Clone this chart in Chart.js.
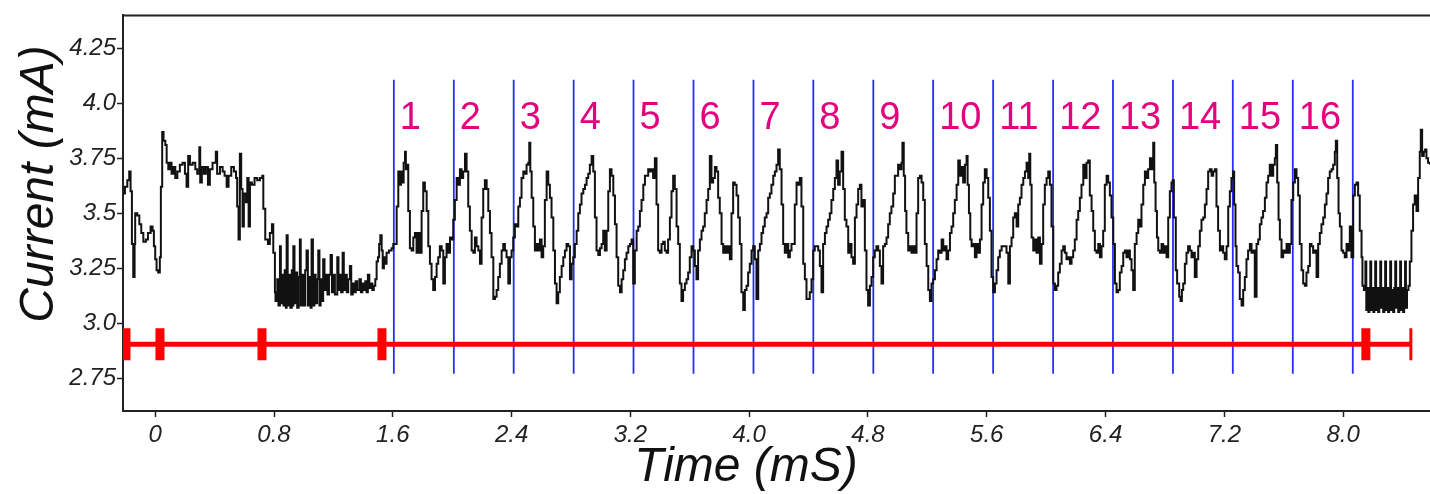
<!DOCTYPE html>
<html>
<head>
<meta charset="utf-8">
<title>Current trace</title>
<script src="https://cdn.jsdelivr.net/npm/chart.js@4.4.1/dist/chart.umd.min.js"></script>
<style>
  html, body { margin: 0; padding: 0; background: #fff; }
  #wrap { width: 1430px; height: 494px; position: relative; }
</style>
</head>
<body>
<div id="wrap"><canvas id="trace-chart"></canvas></div>
<script>
// Axis ticks
const xTicks = [0, 0.8, 1.6, 2.4, 3.2, 4.0, 4.8, 5.6, 6.4, 7.2, 8.0];
const yTicks = [2.75, 3.0, 3.25, 3.5, 3.75, 4.0, 4.25];

// Pulse start times (mS) and their numbers
const pulseStarts = [1.607, 2.011, 2.414, 2.818, 3.221, 3.625, 4.029, 4.432, 4.836,
                     5.239, 5.643, 6.047, 6.450, 6.854, 7.257, 7.661, 8.065];
const pulseLabels = ['1', '2', '3', '4', '5', '6', '7', '8', '9', '10', '11', '12', '13', '14', '15', '16'];

// Red stimulus bar markers (mS)
const markerTimes = [-0.197, 0.032, 0.719, 1.527, 8.153, 8.456];
const stimLevel = 2.904;
const pulseLineLo = 2.77;
const pulseLineHi = 4.107;
const labelLevel = 3.884;

// Current trace [time mS, current mA]
const traceStart = [
  [-0.217,3.59],[-0.204,3.62],[-0.188,3.65],[-0.175,3.69],[-0.166,3.60],[-0.157,3.36],[-0.148,3.21],[-0.139,3.36],
  [-0.135,3.50],[-0.121,3.49],[-0.107,3.45],[-0.094,3.41],[-0.080,3.37],[-0.063,3.38],[-0.049,3.41],[-0.031,3.44],
  [-0.018,3.42],[-0.009,3.35],[0.000,3.29],[0.009,3.24],[0.020,3.23],[0.031,3.30],[0.038,3.62],[0.047,3.87],
  [0.056,3.83],[0.068,3.81],[0.077,3.73],[0.088,3.70],[0.099,3.73],[0.110,3.68],[0.122,3.71],[0.135,3.66],
  [0.149,3.69],[0.166,3.72],[0.184,3.73],[0.200,3.68],[0.211,3.62],[0.222,3.76],[0.234,3.72],[0.252,3.73],
  [0.270,3.70],[0.283,3.68],[0.297,3.80],[0.303,3.64],[0.314,3.71],[0.328,3.68],[0.341,3.71],[0.355,3.63],
  [0.368,3.70],[0.386,3.73],[0.408,3.78],[0.417,3.68],[0.436,3.71],[0.454,3.69],[0.467,3.67],[0.481,3.62],
  [0.494,3.67],[0.512,3.71],[0.530,3.69],[0.544,3.66],[0.552,3.53],[0.561,3.38],[0.570,3.77],[0.579,3.61],
  [0.588,3.44],[0.597,3.59],[0.611,3.55],[0.620,3.66],[0.629,3.44],[0.638,3.64],[0.651,3.63],[0.669,3.66],
  [0.687,3.65],[0.705,3.66],[0.721,3.67],[0.728,3.52],[0.741,3.38],[0.759,3.36],[0.772,3.41],[0.786,3.45],
  [0.795,3.32],[0.806,3.14],
  [0.810,3.10],[0.822,3.20],[0.830,3.08],[0.840,3.35],[0.846,3.09],[0.856,3.22],[0.864,3.08],[0.872,3.24],
  [0.880,3.07],[0.885,3.40],[0.892,3.08],[0.902,3.22],[0.910,3.07],[0.920,3.24],[0.926,3.08],[0.930,3.35],
  [0.938,3.09],[0.948,3.23],[0.956,3.07],[0.966,3.21],[0.974,3.38],[0.980,3.08],[0.990,3.22],[1.000,3.08],
  [1.010,3.24],[1.019,3.33],[1.028,3.08],[1.038,3.21],[1.046,3.07],[1.053,3.38],[1.062,3.08],[1.072,3.22],
  [1.080,3.09],[1.090,3.20],[1.098,3.33],[1.106,3.08],[1.114,3.20],[1.122,3.10],[1.131,3.29],[1.140,3.15],
  [1.150,3.22],[1.160,3.13],[1.170,3.22],[1.181,3.31],[1.190,3.14],[1.200,3.22],[1.210,3.13],[1.226,3.30],
  [1.234,3.15],[1.244,3.22],[1.252,3.14],[1.262,3.32],[1.270,3.15],[1.280,3.22],[1.290,3.14],[1.300,3.20],
  [1.311,3.26],[1.320,3.13],[1.330,3.18],[1.340,3.14],[1.350,3.19],[1.360,3.15],[1.375,3.20],[1.385,3.14],
  [1.395,3.18],[1.405,3.15],[1.415,3.19],[1.423,3.14],[1.432,3.22],[1.442,3.16],[1.452,3.18],[1.462,3.15],
  [1.472,3.17],[1.482,3.20],[1.491,3.28],[1.500,3.30],[1.508,3.36],[1.516,3.40],[1.525,3.33],[1.532,3.25],
  [1.540,3.30],[1.547,3.27],[1.558,3.32],[1.574,3.33],[1.592,3.34],[1.603,3.36]
];

const tracePulses = [
  [1.626,3.53],[1.637,3.69],[1.648,3.63],[1.655,3.69],[1.664,3.64],[1.673,3.73],[1.682,3.78],[1.688,3.70],
  [1.695,3.72],[1.704,3.51],[1.715,3.34],[1.727,3.33],[1.738,3.39],[1.749,3.41],[1.760,3.32],[1.771,3.41],
  [1.783,3.32],[1.794,3.51],[1.805,3.64],[1.816,3.60],[1.828,3.51],[1.839,3.35],[1.850,3.27],[1.861,3.20],
  [1.872,3.15],[1.884,3.21],[1.895,3.27],[1.906,3.30],[1.917,3.35],[1.929,3.33],[1.940,3.18],[1.951,3.30],
  [1.962,3.36],[1.973,3.32],[1.985,3.39],[1.996,3.38],[2.007,3.47],[2.018,3.56],[2.030,3.66],[2.041,3.63],
  [2.052,3.70],[2.063,3.66],[2.074,3.69],[2.086,3.77],[2.097,3.69],[2.108,3.53],[2.119,3.42],[2.131,3.33],
  [2.142,3.32],[2.153,3.39],[2.164,3.35],[2.176,3.33],[2.187,3.27],[2.198,3.48],[2.209,3.61],[2.220,3.65],
  [2.232,3.61],[2.243,3.51],[2.254,3.41],[2.265,3.30],[2.277,3.11],[2.288,3.12],[2.299,3.15],[2.310,3.21],
  [2.321,3.27],[2.333,3.33],[2.344,3.36],[2.355,3.33],[2.366,3.30],[2.378,3.18],[2.389,3.30],[2.400,3.33],
  [2.411,3.39],[2.422,3.45],[2.434,3.44],[2.445,3.53],[2.456,3.57],[2.467,3.66],[2.479,3.69],[2.490,3.68],
  [2.501,3.72],[2.512,3.73],[2.519,3.82],[2.526,3.69],[2.535,3.57],[2.546,3.44],[2.557,3.33],[2.568,3.36],
  [2.580,3.33],[2.591,3.38],[2.602,3.30],[2.613,3.35],[2.624,3.56],[2.636,3.69],[2.647,3.63],[2.658,3.57],
  [2.669,3.48],[2.681,3.33],[2.692,3.18],[2.703,3.09],[2.714,3.14],[2.725,3.21],[2.737,3.26],[2.748,3.30],
  [2.759,3.33],[2.770,3.36],[2.782,3.35],[2.793,3.20],[2.804,3.27],[2.815,3.30],[2.826,3.36],[2.838,3.42],
  [2.849,3.50],[2.860,3.54],[2.871,3.59],[2.883,3.61],[2.894,3.63],[2.905,3.66],[2.916,3.68],[2.927,3.72],
  [2.939,3.76],[2.950,3.69],[2.961,3.48],[2.972,3.33],[2.984,3.31],[2.995,3.34],[3.006,3.36],[3.017,3.42],
  [3.028,3.33],[3.040,3.42],[3.051,3.60],[3.062,3.70],[3.073,3.67],[3.085,3.58],[3.096,3.45],[3.107,3.30],
  [3.118,3.17],[3.130,3.14],[3.141,3.20],[3.152,3.24],[3.163,3.29],[3.174,3.32],[3.186,3.35],[3.197,3.36],
  [3.208,3.38],[3.219,3.18],[3.230,3.33],[3.242,3.42],[3.253,3.44],[3.264,3.51],[3.275,3.56],[3.287,3.63],
  [3.298,3.67],[3.320,3.70],[3.331,3.69],[3.342,3.70],[3.353,3.66],[3.365,3.75],[3.376,3.54],[3.387,3.33],
  [3.398,3.32],[3.410,3.36],[3.421,3.37],[3.432,3.33],[3.443,3.32],[3.454,3.38],[3.466,3.48],[3.477,3.60],
  [3.488,3.67],[3.499,3.61],[3.511,3.44],[3.522,3.36],[3.533,3.18],[3.544,3.10],[3.555,3.15],[3.567,3.18],
  [3.578,3.20],[3.589,3.23],[3.600,3.30],[3.612,3.35],[3.623,3.33],[3.634,3.26],[3.645,3.20],[3.656,3.33],
  [3.668,3.38],[3.679,3.42],[3.690,3.44],[3.701,3.50],[3.713,3.56],[3.724,3.61],[3.735,3.76],[3.746,3.64],
  [3.757,3.66],[3.769,3.71],[3.780,3.69],[3.791,3.57],[3.802,3.50],[3.814,3.36],[3.825,3.32],[3.836,3.35],
  [3.847,3.32],[3.859,3.35],[3.870,3.29],[3.881,3.50],[3.892,3.64],[3.903,3.63],[3.915,3.58],[3.926,3.48],
  [3.937,3.36],[3.948,3.14],[3.960,3.06],[3.971,3.15],[3.982,3.17],[3.993,3.23],[4.004,3.27],[4.016,3.33],
  [4.027,3.35],[4.038,3.29],[4.049,3.11],[4.061,3.33],[4.072,3.36],[4.083,3.41],[4.094,3.44],[4.105,3.48],
  [4.117,3.50],[4.128,3.57],[4.139,3.59],[4.150,3.63],[4.162,3.67],[4.173,3.69],[4.184,3.72],[4.195,3.79],
  [4.206,3.70],[4.218,3.54],[4.229,3.36],[4.240,3.32],[4.251,3.36],[4.263,3.30],[4.274,3.33],[4.285,3.36],
  [4.307,3.54],[4.319,3.64],[4.330,3.63],[4.341,3.66],[4.352,3.53],[4.364,3.27],[4.375,3.20],[4.386,3.11],
  [4.397,3.11],[4.408,3.14],[4.420,3.20],[4.431,3.33],[4.442,3.35],[4.465,3.33],[4.476,3.26],[4.487,3.14],
  [4.498,3.36],[4.510,3.41],[4.521,3.44],[4.532,3.47],[4.543,3.50],[4.554,3.56],[4.566,3.61],[4.577,3.66],
  [4.588,3.74],[4.599,3.63],[4.610,3.69],[4.622,3.78],[4.633,3.61],[4.644,3.47],[4.655,3.44],[4.667,3.32],
  [4.678,3.36],[4.689,3.30],[4.700,3.27],[4.712,3.48],[4.723,3.54],[4.734,3.61],[4.745,3.63],[4.756,3.53],
  [4.768,3.56],[4.779,3.33],[4.790,3.15],[4.801,3.08],[4.813,3.17],[4.824,3.21],[4.835,3.30],[4.846,3.33],
  [4.857,3.35],[4.869,3.33],[4.880,3.26],[4.891,3.18],[4.902,3.35],[4.914,3.36],[4.925,3.39],[4.936,3.45],
  [4.947,3.50],[4.958,3.53],[4.970,3.59],[4.981,3.67],[5.003,3.72],[5.014,3.70],[5.026,3.73],[5.032,3.82],
  [5.041,3.67],[5.050,3.51],[5.059,3.41],[5.071,3.33],[5.082,3.35],[5.093,3.32],[5.104,3.35],[5.115,3.32],
  [5.127,3.50],[5.138,3.66],[5.150,3.67],[5.161,3.64],[5.172,3.56],[5.183,3.36],[5.195,3.26],[5.206,3.15],
  [5.217,3.10],[5.228,3.18],[5.239,3.20],[5.251,3.24],[5.262,3.29],[5.273,3.33],[5.284,3.32],[5.296,3.38],
  [5.307,3.33],[5.318,3.35],[5.329,3.29],[5.340,3.33],[5.352,3.41],[5.363,3.44],[5.374,3.50],[5.385,3.56],
  [5.397,3.63],[5.408,3.74],[5.419,3.67],[5.430,3.71],[5.441,3.64],[5.453,3.72],[5.464,3.76],[5.471,3.63],
  [5.480,3.50],[5.489,3.38],[5.498,3.35],[5.509,3.36],[5.520,3.30],[5.531,3.36],[5.542,3.32],[5.554,3.38],
  [5.565,3.54],[5.576,3.64],[5.587,3.70],[5.599,3.66],[5.610,3.57],[5.621,3.42],[5.632,3.21],[5.643,3.14],
  [5.655,3.18],[5.666,3.24],[5.677,3.30],[5.688,3.33],[5.700,3.35],[5.722,3.35],[5.733,3.32],[5.745,3.18],
  [5.756,3.35],[5.767,3.39],[5.778,3.48],[5.789,3.50],[5.801,3.44],[5.812,3.54],[5.823,3.57],[5.834,3.63],
  [5.846,3.66],[5.857,3.69],[5.868,3.73],[5.879,3.66],[5.886,3.77],[5.893,3.63],[5.902,3.39],[5.913,3.33],
  [5.924,3.38],[5.935,3.32],[5.947,3.39],[5.958,3.27],[5.969,3.36],[5.980,3.54],[5.991,3.63],[6.003,3.66],
  [6.014,3.69],[6.025,3.63],[6.036,3.44],[6.048,3.18],[6.059,3.15],[6.070,3.17],[6.081,3.23],[6.092,3.27],
  [6.104,3.33],[6.115,3.35],[6.126,3.32],[6.137,3.29],[6.149,3.30],[6.160,3.27],[6.171,3.30],[6.182,3.33],
  [6.193,3.38],[6.205,3.47],[6.216,3.51],[6.227,3.57],[6.238,3.63],[6.250,3.72],[6.261,3.66],[6.272,3.73],
  [6.283,3.74],[6.294,3.58],[6.306,3.51],[6.317,3.42],[6.328,3.33],[6.339,3.32],[6.351,3.36],[6.362,3.30],
  [6.373,3.35],[6.384,3.42],[6.395,3.63],[6.407,3.67],[6.418,3.64],[6.429,3.58],[6.440,3.48],[6.452,3.36],
  [6.463,3.18],[6.474,3.14],[6.485,3.15],[6.496,3.23],[6.508,3.26],[6.519,3.32],[6.530,3.33],[6.541,3.30],
  [6.553,3.33],[6.564,3.29],[6.575,3.24],[6.586,3.15],[6.597,3.36],[6.609,3.41],[6.620,3.47],[6.631,3.44],
  [6.642,3.54],[6.654,3.63],[6.665,3.69],[6.676,3.66],[6.687,3.70],[6.699,3.75],[6.710,3.70],[6.721,3.82],
  [6.728,3.64],[6.737,3.51],[6.746,3.39],[6.755,3.33],[6.766,3.32],[6.777,3.36],[6.788,3.32],[6.800,3.35],
  [6.811,3.30],[6.822,3.48],[6.833,3.60],[6.844,3.64],[6.852,3.65],[6.860,3.48],[6.873,3.24],[6.882,3.18],
  [6.896,3.12],[6.905,3.10],[6.914,3.15],[6.923,3.18],[6.934,3.27],[6.945,3.32],[6.956,3.35],[6.968,3.33],
  [6.979,3.30],[6.990,3.32],[7.001,3.21],[7.013,3.29],[7.024,3.35],[7.035,3.42],[7.046,3.47],[7.058,3.48],
  [7.069,3.54],[7.080,3.61],[7.091,3.69],[7.102,3.70],[7.114,3.67],[7.125,3.69],[7.136,3.70],[7.147,3.53],
  [7.158,3.42],[7.170,3.33],[7.181,3.35],[7.192,3.32],[7.203,3.29],[7.215,3.35],[7.226,3.53],[7.237,3.60],
  [7.248,3.66],[7.259,3.69],[7.266,3.54],[7.275,3.35],[7.282,3.26],[7.293,3.23],[7.304,3.11],[7.316,3.08],
  [7.327,3.15],[7.338,3.21],[7.349,3.29],[7.360,3.33],[7.372,3.36],[7.383,3.32],[7.394,3.33],[7.405,3.12],
  [7.417,3.36],[7.428,3.38],[7.439,3.45],[7.450,3.48],[7.461,3.51],[7.473,3.57],[7.484,3.64],[7.495,3.67],
  [7.506,3.72],[7.518,3.67],[7.529,3.72],[7.540,3.75],[7.547,3.81],[7.556,3.64],[7.565,3.47],[7.574,3.38],
  [7.585,3.30],[7.596,3.33],[7.607,3.32],[7.619,3.36],[7.630,3.32],[7.641,3.36],[7.652,3.56],[7.664,3.64],
  [7.675,3.70],[7.686,3.66],[7.697,3.58],[7.708,3.36],[7.720,3.24],[7.731,3.18],[7.742,3.17],[7.753,3.23],
  [7.765,3.26],[7.776,3.36],[7.787,3.35],[7.798,3.32],[7.809,3.33],[7.821,3.21],[7.832,3.36],[7.843,3.41],
  [7.854,3.45],[7.866,3.48],[7.877,3.54],[7.888,3.59],[7.899,3.66],[7.910,3.69],[7.922,3.70],[7.933,3.72],
  [7.944,3.78],[7.951,3.83],[7.960,3.66],[7.969,3.50],[7.978,3.44],[7.989,3.33],[8.000,3.32],[8.011,3.30],
  [8.023,3.36],[8.034,3.33],[8.045,3.44],[8.056,3.30],[8.068,3.58],[8.079,3.63],[8.090,3.64],[8.101,3.58],
  [8.112,3.42],[8.124,3.30],[8.130,3.17]
];

const traceEnd = [
  [8.140,3.15],[8.150,3.28],[8.156,3.06],[8.163,3.16],[8.170,3.05],[8.177,3.16],[8.183,3.28],[8.189,3.06],
  [8.196,3.16],[8.203,3.05],[8.210,3.15],[8.216,3.28],[8.222,3.06],[8.229,3.16],[8.236,3.05],[8.243,3.16],
  [8.250,3.28],[8.256,3.07],[8.263,3.16],[8.270,3.05],[8.277,3.15],[8.283,3.28],[8.289,3.06],[8.296,3.16],
  [8.303,3.05],[8.310,3.16],[8.317,3.28],[8.323,3.06],[8.330,3.15],[8.337,3.05],[8.344,3.16],[8.351,3.28],
  [8.357,3.07],[8.364,3.16],[8.371,3.05],[8.378,3.15],[8.384,3.28],[8.390,3.06],[8.397,3.16],[8.404,3.05],
  [8.411,3.16],[8.417,3.28],[8.423,3.07],[8.430,3.15],[8.440,3.17],[8.449,3.28],[8.460,3.42],[8.471,3.54],
  [8.482,3.58],[8.494,3.51],[8.505,3.66],[8.516,3.78],[8.523,3.88],[8.532,3.76],[8.543,3.78],[8.552,3.79],
  [8.561,3.75],[8.572,3.73],[8.585,3.72]
];

const trace = [...traceStart, ...tracePulses, ...traceEnd];

// vertical blue lines, broken apart with null gaps
const pulseLineData = [];
pulseStarts.forEach(t => {
    pulseLineData.push({ x: t, y: pulseLineLo }, { x: t, y: pulseLineHi }, { x: t, y: null });
});

const markerData = markerTimes.map(t => ({ x: t, y: stimLevel }));
const markerWidths = markerTimes.map((t, i) => i === markerTimes.length - 1 ? 3 : 9);

const FONT = '"Liberation Sans", Arial, sans-serif';
Chart.defaults.font.family = FONT;
Chart.defaults.color = '#222';

// Pulse numbers, top frame line and axis titles
const overlayPlugin = {
    id: 'overlay',
    afterDatasetsDraw(chart) {
        const { ctx, scales: { x, y } } = chart;
        ctx.save();
        ctx.fillStyle = '#e5007e';
        ctx.font = '38px ' + FONT;
        ctx.textAlign = 'left';
        ctx.textBaseline = 'alphabetic';
        pulseLabels.forEach((label, i) => {
            ctx.fillText(label, x.getPixelForValue(pulseStarts[i]) + 6, y.getPixelForValue(labelLevel));
        });
        ctx.restore();
    },
    afterDraw(chart) {
        const { ctx, chartArea } = chart;
        ctx.save();
        ctx.strokeStyle = '#222';
        ctx.lineWidth = 2;
        ctx.beginPath();
        ctx.moveTo(chartArea.left, chartArea.top);
        ctx.lineTo(chartArea.right, chartArea.top);
        ctx.stroke();

        ctx.fillStyle = '#111';
        ctx.font = 'italic 48px ' + FONT;
        ctx.textAlign = 'center';
        ctx.textBaseline = 'alphabetic';
        ctx.fillText('Time (mS)', 746, 481);
        ctx.translate(53, 184);
        ctx.rotate(-Math.PI / 2);
        ctx.fillText('Current (mA)', 0, 0);
        ctx.restore();
    }
};

new Chart(document.getElementById('trace-chart'), {
    type: 'line',
    data: {
        datasets: [
            {
                label: 'Pulse starts',
                data: pulseLineData,
                borderColor: '#2b2bff',
                borderWidth: 1.8,
                pointRadius: 0,
                spanGaps: false,
                order: 3
            },
            {
                label: 'Current',
                data: trace,
                borderColor: '#111',
                borderWidth: 2,
                stepped: true,
                pointRadius: 0,
                order: 2
            },
            {
                label: 'Stimulus',
                data: markerData,
                borderColor: '#ff0000',
                borderWidth: 5,
                pointStyle: 'line',
                rotation: 90,
                pointRadius: 16,
                pointBorderColor: '#ff0000',
                pointBorderWidth: markerWidths,
                order: 1
            }
        ]
    },
    options: {
        responsive: true,
        maintainAspectRatio: false,
        animation: false,
        events: [],
        layout: { autoPadding: false, padding: { top: 10, left: 0, right: 0, bottom: 0 } },
        plugins: {
            legend: { display: false },
            tooltip: { enabled: false }
        },
        scales: {
            x: {
                type: 'linear',
                min: -0.217,
                max: 8.585,
                afterBuildTicks: scale => { scale.ticks = xTicks.map(value => ({ value })); },
                afterFit: scale => { scale.height = 83; },
                border: { display: true, color: '#222', width: 2 },
                grid: { display: true, drawOnChartArea: false, tickLength: 6, tickColor: '#222', tickWidth: 1.5 },
                ticks: {
                    autoSkip: false,
                    maxRotation: 0,
                    padding: 4,
                    color: '#222',
                    font: { size: 24, style: 'italic' },
                    callback: value => value === 0 ? '0' : value.toFixed(1)
                }
            },
            y: {
                min: 2.6,
                max: 4.4,
                afterBuildTicks: scale => { scale.ticks = yTicks.map(value => ({ value })); },
                afterFit: scale => { scale.width = 123; },
                border: { display: true, color: '#222', width: 2 },
                grid: { display: true, drawOnChartArea: false, tickLength: 6, tickColor: '#222', tickWidth: 1.5 },
                ticks: {
                    padding: 1,
                    color: '#222',
                    font: { size: 24, style: 'italic' },
                    callback: value => {
                        const s = value.toFixed(2);
                        return s.endsWith('0') ? s.slice(0, -1) : s;
                    }
                }
            }
        }
    },
    plugins: [overlayPlugin]
});
</script>
</body>
</html>
